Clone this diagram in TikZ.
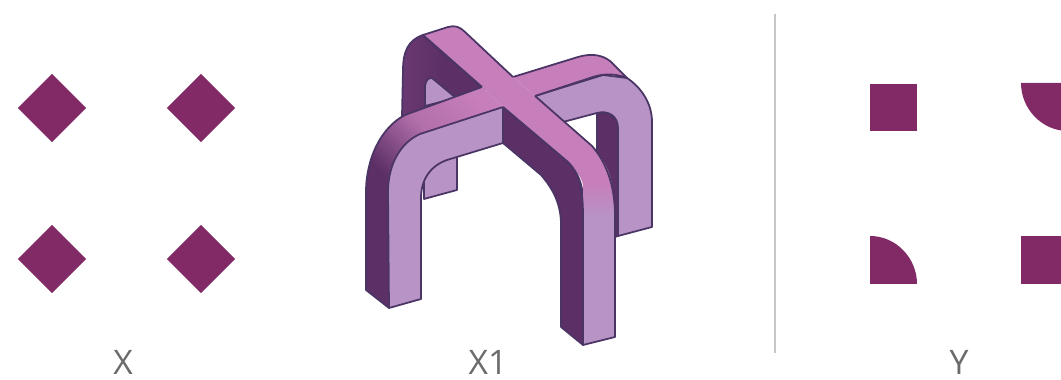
\documentclass[tikz,border=0pt]{standalone}
\usepackage{fontspec}
\setmainfont{Open Sans}
\usetikzlibrary{shapes.geometric}
\definecolor{cellcol}{HTML}{822A66}
\definecolor{pinkcol}{HTML}{C77FBB}
\definecolor{lightcol}{HTML}{B793C6}
\definecolor{darkcol}{HTML}{5C2F66}
\definecolor{midcol}{HTML}{6A3872}
\definecolor{linecol}{HTML}{4A3565}
\tikzset{
  cell/.style={fill=cellcol,inner sep=0pt,outer sep=0pt},
  dia/.style={cell,diamond,aspect=1,minimum size=0.68cm},
  sqr/.style={cell,rectangle,minimum size=0.47cm},
  lab/.style={text=black!58,font=\fontsize{9.6}{11}\selectfont},
  solid line/.style={draw=linecol,line width=0.5pt,line join=round},
  darkface/.style={solid line,fill=darkcol},
  lightface/.style={solid line,fill=lightcol},
}
\begin{document}
\begin{tikzpicture}[x=0.01cm,y=-0.01cm]
\useasboundingbox (0,0) rectangle (1061,380);
\clip (0,0) rectangle (1061,380);

% diamonds
\node[dia] (xa) at (52,108) {};
\node[dia] (xb) at (201,108) {};
\node[dia] (xc) at (52,259) {};
\node[dia] (xd) at (201,259) {};

% back arch
\shade[left color=midcol,right color=darkcol,middle color=darkcol,solid line]
  (423,35) .. controls (408,40) and (403,52) .. (403,70) -- (402,116) -- (484,90) -- cycle;
\path[lightface] (425,106) -- (425,86) .. controls (426,80) and (428,78) .. (432,78) -- (456,98) -- cycle;
\path[lightface] (457,150) -- (457,190) -- (424,199) -- (424,165) -- cycle;

% right part of the front arch
\path[darkface] (597,113) -- (597,160) -- (605,240) -- (618,236) -- (618,127) .. controls (618,118) and (608,111) .. (597,113) -- cycle;
\path[lightface] (535,96) -- (603,75) -- (627,78) .. controls (642,88) and (652,104) .. (652,122) -- (652,227) -- (618,236)
  -- (618,128) .. controls (618,116) and (608,110) .. (597,113) -- (563,122) -- cycle;
\fill[pinkcol] (513,77) -- (578,57) .. controls (592,53) and (602,55) .. (610,61) -- (627,78)
  .. controls (617,74) and (605,73) .. (593,77) -- (535,96) -- cycle;
\draw[solid line] (513,77) -- (578,57) .. controls (592,53) and (602,55) .. (610,61) -- (627,78)
  .. controls (617,74) and (605,73) .. (593,77) -- (535,96);

% left part of the front arch
\path[darkface] (366,290) -- (366,190) -- (388,190) -- (389,308) -- cycle;
\shade[left color=darkcol,right color=pinkcol,middle color=pinkcol!80!darkcol,shading angle=135]
  (366,192) .. controls (366,160) and (380,128) .. (405,115) -- (482,87) -- (503,107) -- (420,134)
  .. controls (400,143) and (388,165) .. (388,192) -- cycle;
\draw[solid line] (366,192) .. controls (366,160) and (380,128) .. (405,115) -- (482,87);
\path[lightface] (503,107) -- (503,143) -- (447,160) .. controls (430,166) and (421,180) .. (421,198) -- (421,299)
  -- (389,308) -- (388,192) .. controls (388,165) and (400,143) .. (420,134) -- cycle;

% diagonal arch
\path[darkface] (503,107) -- (503,143) -- (541,175) .. controls (554,190) and (561,205) .. (561,225) -- (561,327) -- (583,345) -- (583,200) .. controls (583,185) and (578,172) .. (568,162) -- cycle;
\path[lightface] (583,345) -- (583,215) -- (615,215) -- (615,337) -- cycle;
\shade[top color=pinkcol,bottom color=lightcol] (583,185) -- (612,185) -- (615,216) -- (583,216) -- cycle;
\fill[pinkcol] (503,107) -- (482,87) -- (423,35) -- (448,27) .. controls (455,25) and (460,27) .. (465,32)
  -- (513,77) -- (535,96) -- (592,146) .. controls (604,160) and (611,172) .. (612,187) -- (583,187)
  .. controls (583,180) and (578,172) .. (568,162) -- cycle;
\draw[solid line] (503,107) -- (568,162) .. controls (578,172) and (583,185) .. (583,216);
\draw[solid line] (535,96) -- (592,146) .. controls (606,162) and (615,185) .. (615,216);
\draw[solid line] (482,87) -- (423,35) -- (448,27) .. controls (455,25) and (460,27) .. (465,32) -- (513,77);

% divider
\draw[black!22,line width=0.5pt] (775,14) -- (775,353);

% squares and quarters
\node[sqr] (ya) at (893.5,107.5) {};
\path[cell] (1021,83) .. controls (1021,109) and (1042,131) .. (1068,131) -- (1068,83) -- cycle;
\path[cell] (870,236) .. controls (896,236) and (917,258) .. (917,284) -- (870,284) -- cycle;
\node[sqr,anchor=north west] (yd) at (1021,236.5) {};
\node[sqr,anchor=north west] (ye) at (1040,236.5) {};

\node[lab] (xlab) at (123,362) {X};
\node[lab] (xonelab) at (488,362) {X1};
\node[lab] (ylab) at (959,362) {Y};
\end{tikzpicture}
\end{document}
